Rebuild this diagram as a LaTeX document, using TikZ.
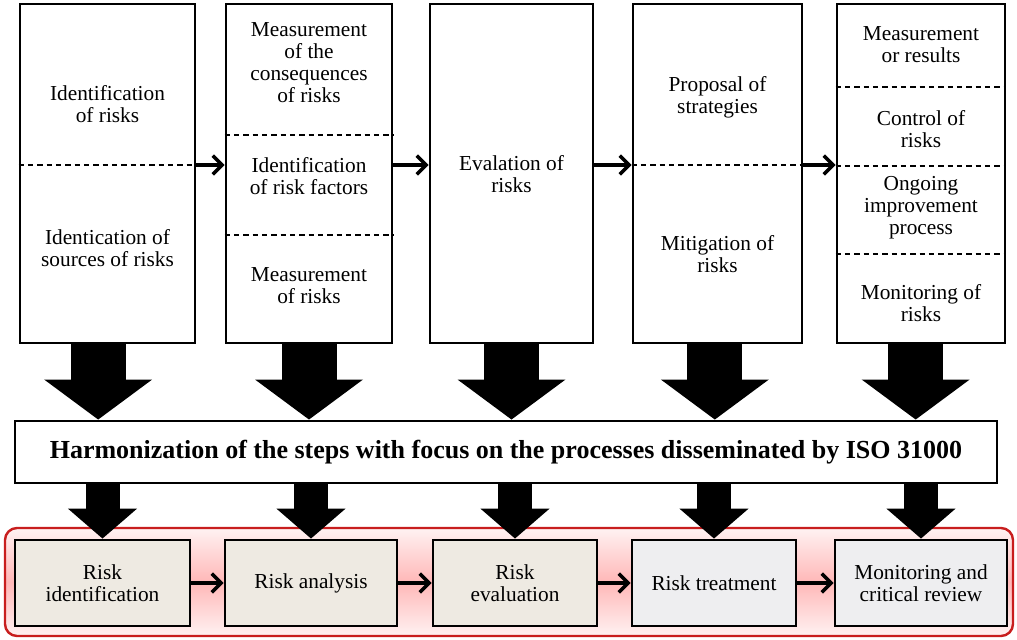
\documentclass[tikz,border=0pt]{standalone}
\usepackage{fontspec}
\setmainfont{Liberation Serif}
\usepackage{xcolor}
\usetikzlibrary{arrows.meta, calc, positioning}
\definecolor{beigebox}{HTML}{EEEAE2}
\definecolor{greybox}{HTML}{EEEEF0}
\definecolor{framered}{HTML}{C81E1E}

\tikzset{
  colbox/.style={draw, rectangle, line width=2.2pt, minimum height=254.25pt, inner sep=0pt},
  lbl/.style={align=center, inner sep=1pt, font=\fontsize{16}{16.5}\selectfont},
  sepline/.style={line width=0.9pt, dash pattern=on 4pt off 3pt},
  flow/.style={line width=2.6pt, -{Straight Barb[length=7pt,width=14pt]}},
  bigarrow/.style={line width=41.25pt, -{Triangle[length=30pt,width=81pt,line width=0pt]}},
  smallarrow/.style={line width=25.5pt, -{Triangle[length=22.5pt,width=52pt,line width=0pt]}},
  stepbox/.style={draw, rectangle, line width=2.2pt, minimum height=64.5pt, inner sep=0pt, align=center, font=\fontsize{16}{16.5}\selectfont}
}

\begin{document}
\begin{tikzpicture}[x=0.75pt, y=-0.75pt]
\useasboundingbox (0,0) rectangle (1017,639);

\node (frame) [draw=framered, line width=1.8pt, rounded corners=9pt, top color=red!5, bottom color=red!5, middle color=red!28, minimum width=756pt, minimum height=81pt] at (509,582) {};

\node (B1) [colbox, minimum width=131.25pt] at (107.5,173.5) {};
\node (B2) [colbox, minimum width=124.5pt] at (309,173.5) {};
\node (B3) [colbox, minimum width=122.25pt] at (511.5,173.5) {};
\node (B4) [colbox, minimum width=126.75pt] at (717.5,173.5) {};
\node (B5) [colbox, minimum width=126pt] at (921,173.5) {};

\node (idrisk) [lbl] at (107.5,104) {Identification\\of risks};
\node (idsrc) [lbl] at (107.5,248) {Identication of\\sources of risks};
\node (meascons) [lbl] at (309,63) {Measurement\\of the\\consequences\\of risks};
\node (idfact) [lbl] at (309,176) {Identification\\of risk factors};
\node (measrisk) [lbl] at (309,286) {Measurement\\of risks};
\node (evalrisk) [lbl] at (511.5,174) {Evalation of\\risks};
\node (propstrat) [lbl] at (717.5,97) {Proposal of\\strategies};
\node (mitig) [lbl] at (717.5,254) {Mitigation of\\risks};
\node (measres) [lbl] at (921,45) {Measurement\\or results};
\node (ctrl) [lbl] at (921,129) {Control of\\risks};
\node (ongoing) [lbl] at (921,208) {Ongoing\\improvement\\process};
\node (monrisk) [lbl] at (921,303) {Monitoring of\\risks};

\draw[sepline] (B1.west |- 0,165) -- (B1.east |- 0,165);
\draw[sepline] (B2.west |- 0,135) -- (B2.east |- 0,135);
\draw[sepline] (B2.west |- 0,235) -- (B2.east |- 0,235);
\draw[sepline] (B4.west |- 0,165) -- (B4.east |- 0,165);
\draw[sepline] (B5.west |- 0,87) -- (B5.east |- 0,87);
\draw[sepline] (B5.west |- 0,166) -- (B5.east |- 0,166);
\draw[sepline] (B5.west |- 0,254) -- (B5.east |- 0,254);

\draw[flow] (B1.east |- 0,165) -- (B2.west |- 0,165);
\draw[flow] (B2.east |- 0,165) -- (B3.west |- 0,165);
\draw[flow] (B3.east |- 0,165) -- (B4.west |- 0,165);
\draw[flow] (B4.east |- 0,165) -- (B5.west |- 0,165);

\node (harm) [draw, rectangle, line width=2.2pt, minimum width=736.5pt, minimum height=46.5pt] at (506,452) {\fontsize{19.5}{21}\selectfont\bfseries Harmonization of the steps with focus on the processes disseminated by ISO 31000};

\draw[bigarrow] ([xshift=-7pt]B1.south) -- ([xshift=-7pt]B1.south |- harm.north);
\draw[bigarrow] (B2.south) -- (B2.south |- harm.north);
\draw[bigarrow] (B3.south) -- (B3.south |- harm.north);
\draw[bigarrow] ([xshift=-2pt]B4.south) -- ([xshift=-2pt]B4.south |- harm.north);
\draw[bigarrow] ([xshift=-4pt]B5.south) -- ([xshift=-4pt]B5.south |- harm.north);

\node (R1) [stepbox, fill=beigebox, minimum width=131.25pt] at (102.5,583) {Risk\\identification};
\node (R2) [stepbox, fill=beigebox, minimum width=129pt] at (311,583) {Risk analysis};
\node (R3) [stepbox, fill=beigebox, minimum width=123pt] at (515,583) {Risk\\evaluation};
\node (R4) [stepbox, fill=greybox, minimum width=123pt] at (714,583) {Risk treatment};
\node (R5) [stepbox, fill=greybox, minimum width=129pt] at (921,583) {Monitoring and\\critical review};

\draw[smallarrow] (harm.south -| R1.north) -- (R1.north);
\draw[smallarrow] (harm.south -| R2.north) -- (R2.north);
\draw[smallarrow] (harm.south -| R3.north) -- (R3.north);
\draw[smallarrow] (harm.south -| R4.north) -- (R4.north);
\draw[smallarrow] (harm.south -| R5.north) -- (R5.north);

\draw[flow] (R1) -- (R2);
\draw[flow] (R2) -- (R3);
\draw[flow] (R3) -- (R4);
\draw[flow] (R4) -- (R5);
\end{tikzpicture}
\end{document}
